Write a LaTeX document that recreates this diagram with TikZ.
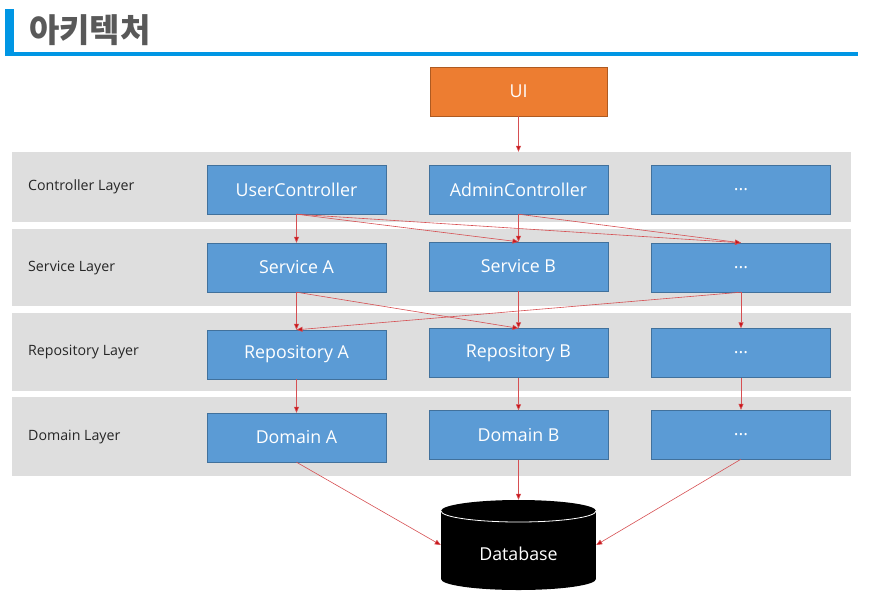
\documentclass[tikz,border=0pt]{standalone}
\usepackage{fontspec}
\setmainfont{Open Sans}
\newfontfamily\krfont{Noto Sans CJK KR}
\usetikzlibrary{arrows.meta}

\definecolor{titleblue}{RGB}{0,150,228}
\definecolor{titlegray}{RGB}{89,89,89}
\definecolor{boxblue}{RGB}{91,155,213}
\definecolor{boxedge}{RGB}{65,113,156}
\definecolor{uiorange}{RGB}{237,125,49}
\definecolor{uiedge}{RGB}{174,90,33}
\definecolor{bandgray}{RGB}{222,222,222}
\definecolor{labelblack}{RGB}{38,38,38}
\definecolor{arrowred}{RGB}{200,20,25}

\tikzset{
  band/.style={fill=bandgray, minimum width=839pt, inner sep=0pt},
  layerbox/.style={draw=boxedge, fill=boxblue, text=white, minimum width=179pt,
    minimum height=49pt, inner sep=0pt, font=\fontsize{17.8}{21}\selectfont},
  bandlabel/.style={anchor=west, inner sep=0pt, text=labelblack,
    font=\fontsize{14.2}{17}\selectfont},
  arr/.style={draw=arrowred!75, line width=0.6pt,
    -{Triangle[length=6pt,width=5pt,fill=arrowred]}}
}

\begin{document}
\begin{tikzpicture}[x=1pt,y=-1pt]

\useasboundingbox (0,0) rectangle (873,606);

% Title with blue bar
\fill[titleblue] (5,9) rectangle (14,56);
\fill[titleblue] (5,52) rectangle (858,56);
\node[anchor=west, inner sep=0pt, text=titlegray,
  font=\krfont\fontsize{33}{36}\selectfont\bfseries] (title) at (29,30) {아키텍처};

% Layer bands
\node[band, minimum height=70pt] (ctrlband) at (431.5,187) {};
\node[band, minimum height=77pt] (svcband) at (431.5,267) {};
\node[band, minimum height=78pt] (repoband) at (431.5,352) {};
\node[band, minimum height=79pt] (domband) at (431.5,436.5) {};

% Layer names
\node[bandlabel] (ctrllabel) at (28,187) {Controller Layer};
\node[bandlabel] (svclabel) at (28,268) {Service Layer};
\node[bandlabel] (repolabel) at (28,352) {Repository Layer};
\node[bandlabel] (domlabel) at (28,437) {Domain Layer};

% UI
\node[layerbox, draw=uiedge, fill=uiorange, minimum width=177pt] (ui) at (518.5,91.5) {UI};

% Controller layer
\node[layerbox] (userctrl) at (296.5,189.5) {UserController};
\node[layerbox] (adminctrl) at (518.5,189.5) {AdminController};
\node[layerbox] (ctrletc) at (741,189.5) {...};

% Service layer
\node[layerbox] (svca) at (296.5,267.5) {Service A};
\node[layerbox] (svcb) at (518.5,266.5) {Service B};
\node[layerbox] (svcetc) at (741,267.5) {...};

% Repository layer
\node[layerbox] (repoa) at (296.5,354.5) {Repository A};
\node[layerbox] (repob) at (518.5,353) {Repository B};
\node[layerbox] (repoetc) at (741,353) {...};

% Domain layer
\node[layerbox] (doma) at (296.5,437.5) {Domain A};
\node[layerbox] (domb) at (518.5,435) {Domain B};
\node[layerbox] (dometc) at (741,434.5) {...};

% Database cylinder
\fill (441,511) rectangle (596,579);
\fill (518.5,579) ellipse (77.5 and 11);
\fill (518.5,511) ellipse (77.5 and 11);
\draw[white, line width=0.8pt] (441,511) arc (180:0:77.5 and 11);
\node[minimum width=155pt, minimum height=90pt, inner sep=0pt,
  label={[text=white, yshift=-9pt, font=\fontsize{17.8}{21}\selectfont]center:Database}]
  (db) at (518.5,545) {};

% UI to controller layer
\draw[arr] (ui) -- (ui |- ctrlband.north);

% Controller to service
\draw[arr] (userctrl.south) -- (svca.north);
\draw[arr] (userctrl.south) -- (svcb.north);
\draw[arr] (userctrl.south) -- (svcetc.north);
\draw[arr] (adminctrl.south) -- (svcb.north);
\draw[arr] (adminctrl.south) -- (svcetc.north);

% Service to repository
\draw[arr] (svca.south) -- (repoa.north);
\draw[arr] (svca.south) -- (repob.north);
\draw[arr] (svcb.south) -- (repob.north);
\draw[arr] (svcetc.south) -- (repoa.north);
\draw[arr] (svcetc.south) -- (repoetc.north);

% Repository to domain
\draw[arr] (repoa.south) -- (doma.north);
\draw[arr] (repob.south) -- (domb.north);
\draw[arr] (repoetc.south) -- (dometc.north);

% Domain to database
\draw[arr] (doma.south) -- (db.west);
\draw[arr] (domb.south) -- (db.north);
\draw[arr] (dometc.south) -- (db.east);

\end{tikzpicture}
\end{document}
